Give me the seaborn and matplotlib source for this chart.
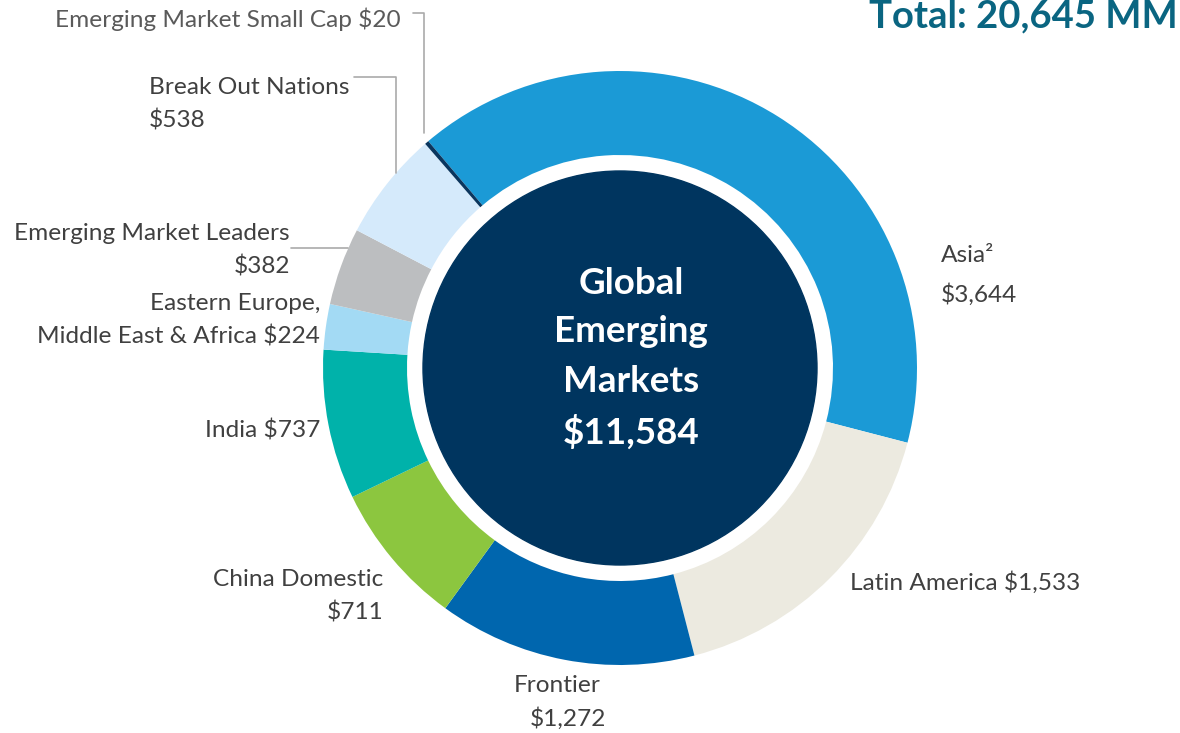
import matplotlib
matplotlib.use("Agg")
import matplotlib.pyplot as plt
import seaborn as sns
from matplotlib.patches import Circle

sns.set_theme(style="white")
plt.rcParams['font.family'] = ['Lato', 'DejaVu Sans']

# ---- data ----
segments = ["Asia", "Latin America", "Frontier", "China Domestic", "India",
            "Eastern Europe, Middle East & Africa", "Emerging Market Leaders",
            "Break Out Nations", "Emerging Market Small Cap"]
values = [3644, 1533, 1272, 711, 737, 224, 382, 538, 20]
colors = ["#1B9AD6", "#ECEAE0", "#0066AE", "#8CC63F", "#00B2AA",
          "#A3DAF4", "#BCBEC0", "#D5EAFB", "#0A365E"]
center_lines = ["Global", "Emerging", "Markets", "$11,584"]
total_title = "Total: 20,645 MM"

W, H = 1180, 733
fig = plt.figure(figsize=(W / 100, H / 100), dpi=100)
ax = fig.add_axes([0, 0, 1, 1])

def Y(y):
    return H - y

cx, cy = 620, Y(368)
R_out, R_in = 297, 213
ax.pie(values, colors=colors, startangle=130.2, counterclock=False,
       center=(cx, cy), radius=R_out, frame=True,
       wedgeprops=dict(width=R_out - R_in, linewidth=0))
ax.set_xlim(0, W)
ax.set_ylim(0, H)
ax.set_aspect('equal')
ax.axis('off')
ax.add_patch(Circle((cx, cy), 197, color="#00355F", zorder=5))

# center text
cy_lines = [283, 332, 381, 432]
for t, yy in zip(center_lines, cy_lines):
    ax.text(631, Y(yy), t, color="white", fontsize=26.5, fontweight="bold",
            ha="center", va="center", zorder=6)

ax.text(1178, Y(16), total_title, color="#0A6581", fontsize=27.5,
        fontweight="bold", ha="right", va="center")

lc = "#404040"
fs = 17.6
def lab(x, y, s, ha, color=lc):
    ax.text(x, Y(y), s, color=color, fontsize=fs, ha=ha, va="center")

lab(401, 19, "Emerging Market Small Cap $20", "right", "#5a5a5a")
lab(149, 88, "Break Out Nations", "left")
lab(149, 120, "$538", "left")
lab(290, 233, "Emerging Market Leaders", "right")
lab(290, 266, "$382", "right")
lab(320, 303, "Eastern Europe,", "right")
lab(320, 336, "Middle East & Africa $224", "right")
lab(320, 431, "India $737", "right")
lab(383, 580, "China Domestic", "right")
lab(383, 613, "$711", "right")
lab(514, 686, "Frontier", "left")
lab(606, 719, "$1,272", "right")
lab(850, 583, "Latin America $1,533", "left")
lab(941, 255, "Asia\u00b2", "left")
lab(941, 295, "$3,644", "left")

gc = "#AAAAAA"
ax.plot([413, 424, 424], [Y(13), Y(13), Y(133)], color=gc, lw=1.2)
ax.plot([354, 396, 396], [Y(77), Y(77), Y(173)], color=gc, lw=1.2)
ax.plot([291, 348], [Y(248), Y(248)], color=gc, lw=1.2)

fig.savefig("out.png", dpi=100)
